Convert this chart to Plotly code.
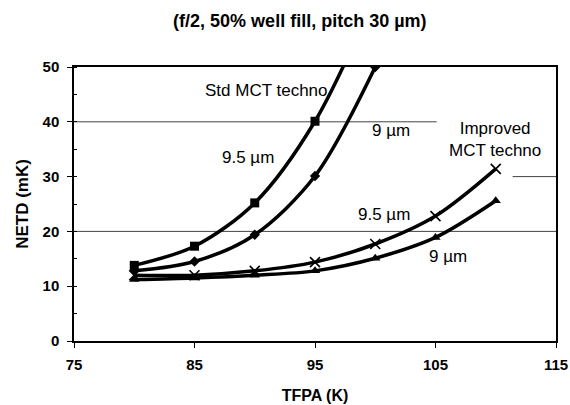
import plotly.graph_objects as go

temps = [80, 85, 90, 95, 100, 105, 110]

std_95_x = [80, 85, 90, 95, 100]
std_95_y = [13.8, 17.3, 25.2, 40.1, 63.0]

std_9_x = [80, 85, 90, 95, 100]
std_9_y = [12.8, 14.5, 19.4, 30.1, 50.0]

imp_95_y = [12.0, 12.0, 12.8, 14.4, 17.7, 22.8, 31.4]
imp_9_y = [11.2, 11.5, 12.0, 12.8, 15.1, 18.9, 25.6]

x_ticks = [75, 85, 95, 105, 115]
y_ticks = [0, 10, 20, 30, 40, 50]

FONT = "Liberation Sans, Arial, sans-serif"
LINE = dict(color="black", width=3.5, shape="spline", smoothing=0.9)

fig = go.Figure()
fig.add_trace(go.Scatter(x=std_95_x, y=std_95_y, mode="lines+markers", line=LINE,
                         marker=dict(symbol="square", size=9, color="black")))
fig.add_trace(go.Scatter(x=std_9_x, y=std_9_y, mode="lines+markers", line=LINE,
                         marker=dict(symbol="diamond", size=8, color="black")))
fig.add_trace(go.Scatter(x=temps, y=imp_95_y, mode="lines+markers", line=LINE,
                         marker=dict(symbol="x-thin", size=10, color="black",
                                     line=dict(color="black", width=1.6))))
fig.add_trace(go.Scatter(x=temps, y=imp_9_y, mode="lines+markers", line=LINE,
                         marker=dict(symbol="triangle-up", size=9, color="black")))

# gridlines
grid = dict(color="#444", width=1)
fig.add_shape(type="line", xref="x", yref="y", x0=75, x1=105.1, y0=40, y1=40, line=grid, layer="below")
fig.add_shape(type="line", xref="x", yref="y", x0=75, x1=115, y0=20, y1=20, line=grid, layer="below")
fig.add_shape(type="line", xref="x", yref="y", x0=111.4, x1=115, y0=30, y1=30, line=grid, layer="below")

ann = dict(showarrow=False, font=dict(family=FONT, size=17, color="black"), xref="x", yref="y")
fig.add_annotation(x=91.0, y=45.8, text="Std MCT techno", **ann)
fig.add_annotation(x=89.4, y=33.4, text="9.5 µm", **ann)
fig.add_annotation(x=101.3, y=38.5, text="9 µm", **ann)
fig.add_annotation(x=109.9, y=36.8, text="Improved<br>MCT techno", **ann)
fig.add_annotation(x=100.7, y=23.0, text="9.5 µm", **ann)
fig.add_annotation(x=106.0, y=15.5, text="9 µm", **ann)

fig.update_layout(
    width=570, height=405,
    margin=dict(l=74, r=14, t=67, b=64),
    paper_bgcolor="white", plot_bgcolor="white",
    showlegend=False,
    font=dict(family=FONT, color="black"),
    title=dict(text="<b>(f/2, 50% well fill, pitch 30 µm)</b>", x=0.526, xanchor="center",
               y=0.948, yanchor="middle", font=dict(family=FONT, size=18, color="black")),
)
fig.update_xaxes(range=[75, 115], tickvals=x_ticks, ticktext=[f"<b>{v}</b>" for v in x_ticks],
                 showgrid=False, zeroline=False, showline=True, linecolor="black", linewidth=1.5,
                 mirror=True, ticks="outside", ticklen=5, tickcolor="black", automargin=False,
                 tickfont=dict(family=FONT, size=15), ticklabelstandoff=4,
                 title=dict(text="<b>TFPA (K)</b>", font=dict(family=FONT, size=16), standoff=18))
fig.update_yaxes(range=[0, 50], tickvals=y_ticks, ticktext=[f"<b>{v}</b>" for v in y_ticks],
                 showgrid=False, zeroline=False, showline=True, linecolor="black", linewidth=1.5,
                 mirror=True, ticks="outside", ticklen=5, tickcolor="black", automargin=False,
                 tickfont=dict(family=FONT, size=15), ticklabelstandoff=5,
                 minor=dict(dtick=5, ticks="inside", ticklen=3, tickcolor="black", showgrid=False),
                 title=dict(text="<b>NETD (mK)</b>", font=dict(family=FONT, size=17), standoff=10))

fig.write_html("out.html")
